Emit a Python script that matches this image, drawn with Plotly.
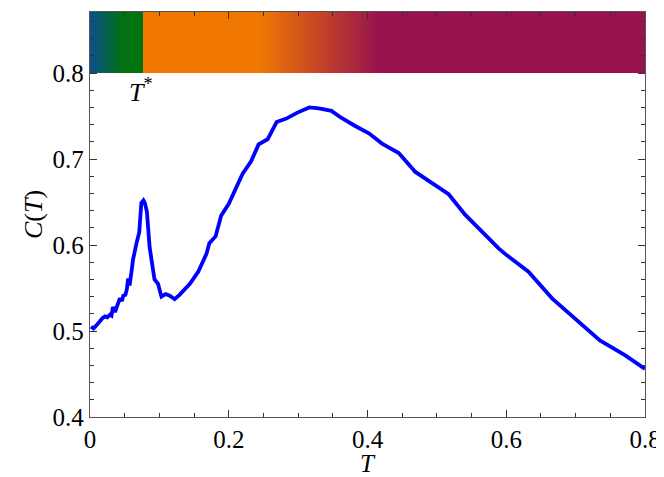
import numpy as np
import plotly.graph_objects as go

# ---- curve data C(T) ----
T = [0.0014, 0.005, 0.0096, 0.012, 0.014, 0.018, 0.0216, 0.025, 0.029, 0.031, 0.033, 0.036,
     0.038, 0.041, 0.043, 0.046, 0.048, 0.051, 0.053, 0.055, 0.057, 0.060, 0.062, 0.067,
     0.071, 0.074, 0.077, 0.079, 0.082, 0.086, 0.093, 0.098, 0.103, 0.109, 0.115, 0.122,
     0.129, 0.144, 0.156, 0.168, 0.172, 0.181, 0.189, 0.200, 0.208, 0.220, 0.232, 0.243,
     0.256, 0.269, 0.283, 0.299, 0.316, 0.330, 0.348, 0.362, 0.381, 0.402, 0.421, 0.445,
     0.469, 0.493, 0.517, 0.541, 0.565, 0.589, 0.601, 0.632, 0.666, 0.699, 0.735, 0.771,
     0.800]
C = [0.505, 0.503, 0.507, 0.510, 0.511, 0.515, 0.517, 0.516, 0.519, 0.518, 0.528, 0.522,
     0.526, 0.534, 0.538, 0.535, 0.541, 0.542, 0.548, 0.561, 0.553, 0.570, 0.583, 0.602,
     0.615, 0.649, 0.652, 0.649, 0.639, 0.597, 0.560, 0.555, 0.540, 0.543, 0.541, 0.537,
     0.542, 0.555, 0.569, 0.590, 0.602, 0.610, 0.634, 0.648, 0.662, 0.683, 0.697, 0.717,
     0.723, 0.743, 0.747, 0.754, 0.760, 0.759, 0.756, 0.748, 0.739, 0.730, 0.718, 0.707,
     0.685, 0.672, 0.659, 0.635, 0.615, 0.596, 0.588, 0.569, 0.538, 0.515, 0.489, 0.472,
     0.456]

# ---- phase colour band (T positions and colours) ----
band_T = [0.0, 0.047, 0.077, 0.077, 0.244, 0.417, 0.8]
band_colors = ["#0b4f8c", "#00720f", "#00720f", "#f07800", "#f07800", "#98124f", "#98124f"]
band_bottom, band_top = 0.8, 0.871
T_star = 0.077

x_ticks = [0, 0.2, 0.4, 0.6, 0.8]
y_ticks = [0.4, 0.5, 0.6, 0.7, 0.8]

FONT = "Liberation Serif, Times New Roman, serif"

# colour band as heatmap
edges = np.linspace(0, 0.8, 801)
centers = 0.5 * (edges[:-1] + edges[1:])
cs = [[t / 0.8, c] for t, c in zip(band_T, band_colors)]

fig = go.Figure()
fig.add_trace(go.Heatmap(
    x=edges, y=[band_bottom, band_top], z=[centers],
    colorscale=cs, zmin=0, zmax=0.8, showscale=False, hoverinfo="skip"))
fig.add_trace(go.Scatter(
    x=T, y=C, mode="lines", line=dict(color="#0000ff", width=3.8), showlegend=False))

fig.add_annotation(x=T_star, y=0.8, yshift=1, text="<i>T</i><sup>*</sup>", showarrow=False,
                   xanchor="left", yanchor="top", xshift=-16,
                   font=dict(family=FONT, size=26, color="black"))

# x-axis title as an annotation below the tick labels
fig.add_annotation(x=0.5, y=0, xref="paper", yref="paper", yshift=-31, text="<i>T</i>",
                   showarrow=False, xanchor="center", yanchor="top",
                   font=dict(family=FONT, size=25, color="black"))

axis_common = dict(
    showgrid=False, zeroline=False, showline=True, linecolor="#555555", linewidth=1.3,
    mirror="ticks", ticks="inside", ticklen=7, tickwidth=1.2, tickcolor="#333333",
    tickfont=dict(family=FONT, size=25, color="black"),
)

fig.update_xaxes(range=[0, 0.8], tickvals=x_ticks, ticktext=["0", "0.2", "0.4", "0.6", "0.8"],
                 minor=dict(dtick=0.05, tick0=0, ticks="inside", ticklen=3.5, tickcolor="#333333"),
                 **axis_common)
fig.update_yaxes(range=[0.4, band_top], tickvals=y_ticks,
                 minor=dict(dtick=0.02, tick0=0.4, ticks="inside", ticklen=3.5, tickcolor="#333333"),
                 title=dict(text="<i>C</i>(<i>T</i>)", font=dict(family=FONT, size=26, color="black"), standoff=2),
                 **axis_common)

fig.update_layout(
    width=656, height=469,
    margin=dict(l=82, r=17, t=3, b=60),
    plot_bgcolor="white", paper_bgcolor="white",
)

fig.write_html("out.html")
